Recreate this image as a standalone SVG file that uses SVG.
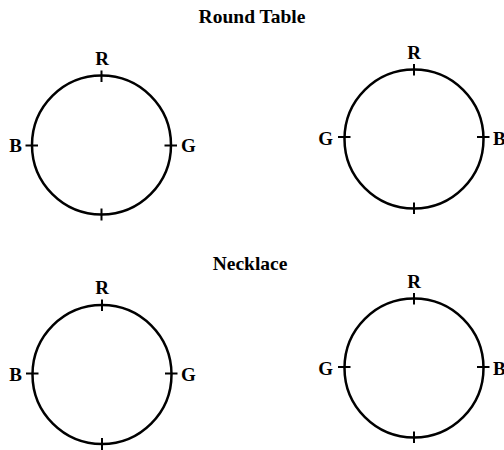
<svg xmlns="http://www.w3.org/2000/svg" width="504" height="450" viewBox="0 0 504 450">
<style>
.c{fill:none;stroke:#000;stroke-width:2.5}
.t{stroke:#000;stroke-width:2}
text{font-family:"Liberation Serif","Times New Roman",serif;font-weight:bold;fill:#000}
.title{font-size:19.5px;text-anchor:middle}
.lbl{font-size:19px}
.m{text-anchor:middle}
.e{text-anchor:end}
</style>
<rect width="504" height="450" fill="#fff"/>
<text class="title" x="252" y="23">Round Table</text>
<text class="title" x="250" y="270">Necklace</text>
<g id="rt1">
<circle class="c" cx="101.5" cy="145" r="69.5"/>
<line class="t" x1="101.5" y1="70.5" x2="101.5" y2="82"/>
<line class="t" x1="101.5" y1="208.5" x2="101.5" y2="220.5"/>
<line class="t" x1="25.5" y1="145.5" x2="38" y2="145.5"/>
<line class="t" x1="164.5" y1="145.5" x2="177" y2="145.5"/>
<text class="lbl m" x="102" y="65">R</text>
<text class="lbl e" x="22" y="151.5">B</text>
<text class="lbl" x="181" y="151.5">G</text>
</g>
<g id="rt2">
<circle class="c" cx="414" cy="139" r="69.5"/>
<line class="t" x1="414" y1="64" x2="414" y2="75.5"/>
<line class="t" x1="414" y1="202.5" x2="414" y2="214"/>
<line class="t" x1="338" y1="137" x2="350.5" y2="137"/>
<line class="t" x1="477" y1="137" x2="489.5" y2="137"/>
<text class="lbl m" x="414" y="58.5">R</text>
<text class="lbl e" x="333" y="145">G</text>
<text class="lbl" x="493" y="145">B</text>
</g>
<g id="nk1">
<circle class="c" cx="102" cy="374.5" r="69.5"/>
<line class="t" x1="102" y1="299.5" x2="102" y2="311"/>
<line class="t" x1="102" y1="438" x2="102" y2="450"/>
<line class="t" x1="26" y1="373.5" x2="38.5" y2="373.5"/>
<line class="t" x1="165" y1="373.5" x2="177.5" y2="373.5"/>
<text class="lbl m" x="102" y="293.5">R</text>
<text class="lbl e" x="22" y="380.5">B</text>
<text class="lbl" x="181" y="380.5">G</text>
</g>
<g id="nk2">
<circle class="c" cx="414" cy="368" r="69.5"/>
<line class="t" x1="414" y1="293" x2="414" y2="304.5"/>
<line class="t" x1="414" y1="431.5" x2="414" y2="443"/>
<line class="t" x1="338" y1="367" x2="350.5" y2="367"/>
<line class="t" x1="477" y1="367" x2="489.5" y2="367"/>
<text class="lbl m" x="414" y="287.5">R</text>
<text class="lbl e" x="333" y="375">G</text>
<text class="lbl" x="493" y="375">B</text>
</g>
<g id="connectors"/>
</svg>
